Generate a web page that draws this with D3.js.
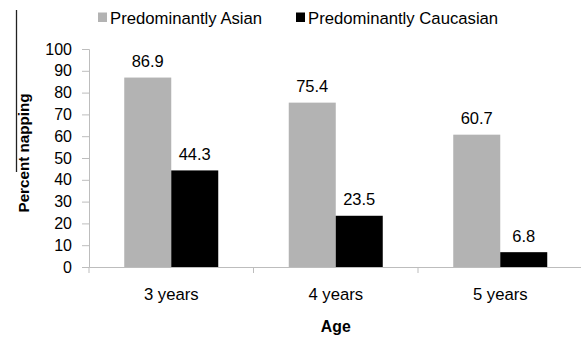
<!DOCTYPE html>
<html><head><meta charset="utf-8">
<script src="https://cdn.jsdelivr.net/npm/d3@7"></script>
<style>body{margin:0;background:#fff}svg{display:block;font-family:"Liberation Sans",Arial,sans-serif}</style>
</head><body><svg id="c" width="581" height="337"></svg>
<script>
const categories = ["3 years", "4 years", "5 years"];
const seriesNames = ["Predominantly Asian", "Predominantly Caucasian"];
const asian = [86.9, 75.4, 60.7];
const caucasian = [44.3, 23.5, 6.8];
const yTicks = [0,10,20,30,40,50,60,70,80,90,100];
const colors = ["#b3b3b3", "#000000"];

const svg = d3.select("#c");
const FONT = "Liberation Sans, Arial, sans-serif";
const x = d3.scaleBand().domain(categories).range([89, 582.5]).paddingInner(0).paddingOuter(0);
const y = d3.scaleLinear().domain([0,100]).range([267, 49]);
const bw = 47;
const series = [asian, caucasian];
const axisColor = "#bdbdbd";

// stray border line at left edge (present in the reference image)
svg.append("line").attr("x1", 16.5).attr("x2", 16.5).attr("y1", 10).attr("y2", 172)
  .attr("stroke", "#222").attr("stroke-width", 1.3);

// y axis
const ya = svg.append("g").attr("transform", `translate(89,0)`)
  .call(d3.axisLeft(y).tickValues(yTicks).tickSize(7).tickPadding(10));
ya.select(".domain").attr("stroke", axisColor);
ya.selectAll(".tick line").attr("stroke", axisColor);
ya.selectAll(".tick text").attr("font-size", 16).attr("fill", "#000").attr("font-family", FONT);

// bars
series.forEach((s, si) => {
  svg.append("g").selectAll("rect").data(s).join("rect")
    .attr("x", (d,i) => x(categories[i]) + x.bandwidth()/2 - bw + si*bw)
    .attr("y", d => y(d))
    .attr("width", bw)
    .attr("height", d => y(0) - y(d))
    .attr("fill", colors[si]);
  svg.append("g").selectAll("text").data(s).join("text")
    .attr("x", (d,i) => x(categories[i]) + x.bandwidth()/2 - bw/2 + si*bw)
    .attr("y", d => y(d) - 10.5)
    .attr("text-anchor", "middle").attr("font-size", 16.5).attr("fill", "#000")
    .text(d => d.toFixed(1));
});

// x axis
const xa = svg.append("g").attr("transform", `translate(0,${y(0)})`)
  .call(d3.axisBottom(x).tickSize(0).tickFormat(""));
xa.select(".domain").attr("stroke", axisColor);
const bounds = categories.map(c => x(c)).concat([x(categories[2]) + x.bandwidth()]);
svg.append("g").selectAll("line").data(bounds).join("line")
  .attr("x1", d => d).attr("x2", d => d).attr("y1", y(0)).attr("y2", y(0)+6)
  .attr("stroke", axisColor);
svg.append("g").selectAll("text").data(categories).join("text")
  .attr("x", d => x(d) + x.bandwidth()/2).attr("y", 300)
  .attr("text-anchor", "middle").attr("font-size", 16.7).text(d => d);

// axis titles
svg.append("text").attr("x", (89 + 582.5)/2).attr("y", 332).attr("text-anchor", "middle")
  .attr("font-size", 15.8).attr("font-weight", "bold").text("Age");
svg.append("text").attr("transform", `translate(28.5,153) rotate(-90)`).attr("text-anchor", "middle")
  .attr("font-size", 15.2).attr("font-weight", "bold").text("Percent napping");

// legend
const legX = [98, 296];
seriesNames.forEach((n, i) => {
  svg.append("rect").attr("x", legX[i]).attr("y", 12.5).attr("width", 9).attr("height", 9.5).attr("fill", colors[i]);
  svg.append("text").attr("x", legX[i] + 12).attr("y", 24).attr("font-size", 16.7).text(n);
});
</script></body></html>
